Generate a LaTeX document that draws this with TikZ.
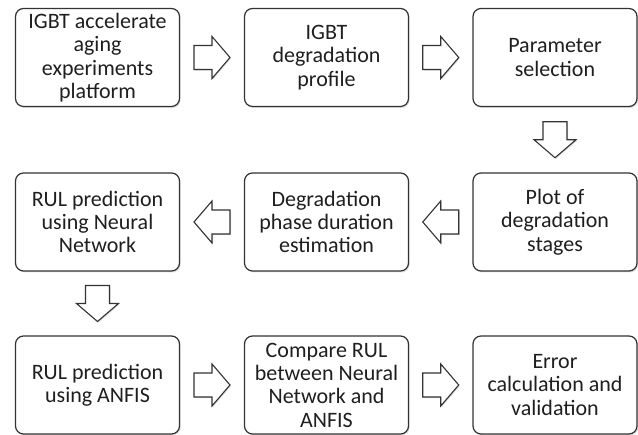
\documentclass[tikz,border=0pt]{standalone}
\usepackage{fontspec}
\setmainfont{Carlito}
\usetikzlibrary{calc,shadows}
\tikzset{
  stepbox/.style={draw=black!80, line width=1.2pt, rounded corners=8pt, fill=white,
    minimum width=164pt, minimum height=98pt, align=center, inner sep=1pt,
    font=\fontsize{22}{23.3}\selectfont, text=black!88,
    drop shadow={shadow xshift=1.2pt, shadow yshift=-1.5pt, opacity=0.25}},
  blk/.style={draw=black!80, line width=1.1pt, fill=white, line join=miter,
    drop shadow={shadow xshift=1pt, shadow yshift=-1.2pt, opacity=0.25}}
}
\newcommand\blkarrow[2]{%
  \draw[blk, shift={(#1)}, rotate=#2]
    (-18pt,-12pt) -- (0pt,-12pt) -- (0pt,-21pt) -- (18pt,0pt) -- (0pt,21pt)
    -- (0pt,12pt) -- (-18pt,12pt) -- cycle;}
\begin{document}
\begin{tikzpicture}[x=1pt,y=1pt]
\useasboundingbox (0,0) rectangle (638,435);
% row 1
\node[stepbox] (b1) at (97.5,377.5) {IGBT accelerate\\aging\\experiments\\platform};
\node[stepbox] (b2) at (326.5,377.5) {IGBT\\degradation\\profile};
\node[stepbox] (b3) at (555,377.5) {Parameter\\selection};
% row 2
\node[stepbox] (b4) at (97.5,213) {RUL prediction\\using Neural\\Network};
\node[stepbox] (b5) at (326.5,213) {Degradation\\phase duration\\estimation};
\node[stepbox] (b6) at (555,213) {Plot of\\degradation\\stages};
% row 3
\node[stepbox] (b7) at (97.5,50) {RUL prediction\\using ANFIS};
\node[stepbox] (b8) at (326.5,50) {Compare RUL\\between Neural\\Network and\\ANFIS};
\node[stepbox] (b9) at (555,50) {Error\\calculation and\\validation};
% block arrows
\coordinate (a1) at ($(b1.east)!0.5!(b2.west)$);
\coordinate (a2) at ($(b2.east)!0.5!(b3.west)$);
\coordinate (a3) at ($(b3.south)!0.5!(b6.north)$);
\coordinate (a4) at ($(b6.west)!0.5!(b5.east)$);
\coordinate (a5) at ($(b5.west)!0.5!(b4.east)$);
\coordinate (a6) at ($(b4.south)!0.5!(b7.north)$);
\coordinate (a7) at ($(b7.east)!0.5!(b8.west)$);
\coordinate (a8) at ($(b8.east)!0.5!(b9.west)$);
\blkarrow{a1}{0}
\blkarrow{a2}{0}
\blkarrow{a3}{-90}
\blkarrow{a4}{180}
\blkarrow{a5}{180}
\blkarrow{a6}{-90}
\blkarrow{a7}{0}
\blkarrow{a8}{0}
\end{tikzpicture}
\end{document}
